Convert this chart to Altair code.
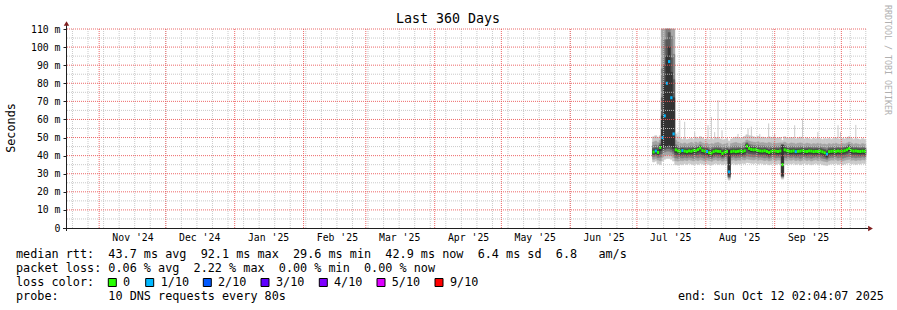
import altair as alt
import pandas as pd

# ---------------- data (values in milliseconds) ----------------
period_start = "2024-10-17T02:04:07Z"
period_end = "2025-10-12T02:04:07Z"
first_day = "2025-07-08"
n_days = 96

median_ms = [
    42.0, 42.6, 41.8, 44.5, 50.0, 62.0, 80.0, 92.0, 72.0, 52.0, 43.2, 42.6,
    42.4, 42.8, 42.5, 42.2, 42.6, 42.4, 42.9, 42.7, 43.3, 44.2, 42.8, 42.5,
    42.3, 41.6, 41.4, 42.2, 42.6, 42.4, 42.3, 41.2, 42.0, 42.3, 31.0, 42.2,
    42.5, 42.2, 42.4, 42.6, 42.3, 42.7, 45.3, 44.0, 43.4, 43.2, 43.3, 42.8,
    42.6, 42.5, 42.7, 42.3, 41.8, 42.4, 42.6, 42.5, 42.3, 42.6, 35.0, 43.2,
    42.7, 42.5, 42.4, 42.6, 42.2, 42.4, 42.5, 42.7, 42.4, 42.3, 42.6, 42.5,
    42.2, 42.4, 42.3, 42.5, 42.1, 41.6, 40.8, 42.2, 42.4, 42.5, 42.3, 42.6,
    42.4, 42.5, 42.7, 43.2, 44.0, 42.8, 42.5, 42.6, 42.4, 42.3, 42.5, 42.4]

loss_tenths = [
    0, 1, 0, 0, 1, 1, 1, 1, 1, 1, 0, 0,
    0, 1, 0, 0, 0, 0, 0, 0, 0, 0, 0, 0,
    1, 0, 0, 0, 0, 0, 0, 0, 0, 0, 1, 0,
    0, 0, 0, 0, 0, 0, 0, 0, 0, 0, 0, 0,
    0, 0, 0, 0, 0, 0, 0, 0, 0, 0, 0, 0,
    0, 0, 0, 0, 1, 0, 0, 0, 0, 0, 0, 0,
    0, 0, 0, 0, 0, 0, 1, 0, 0, 0, 0, 0,
    0, 0, 0, 0, 0, 0, 0, 0, 0, 0, 0, 0]

smoke1_hi = [
    50.4, 51.0, 50.0, 51.0, 110, 110, 110, 110, 110, 110, 52.0, 50.5,
    49.5, 49.0, 49.5, 48.8, 49.2, 49.6, 49.0, 50.2, 49.4, 50.5, 49.8, 49.0,
    49.3, 48.8, 49.5, 49.0, 49.8, 50.0, 49.2, 48.6, 49.0, 49.4, 48.0, 49.2,
    49.6, 50.2, 49.8, 49.5, 50.0, 50.6, 51.5, 51.0, 50.8, 50.4, 50.0, 50.6,
    49.8, 50.2, 50.0, 49.6, 50.4, 49.8, 50.2, 49.6, 49.8, 50.0, 48.5, 50.4,
    49.8, 49.5, 50.0, 49.6, 49.2, 49.8, 50.2, 49.6, 49.2, 49.8, 49.4, 49.0,
    49.6, 49.2, 49.8, 49.4, 49.0, 49.4, 49.2, 49.6, 49.0, 49.4, 49.8, 49.2,
    49.0, 49.6, 49.2, 49.8, 50.4, 49.6, 49.0, 49.4, 49.2, 48.8, 49.4, 49.0]
smoke1_lo = [
    36.5, 37.0, 35.5, 35.0, 37.0, 38.0, 38.5, 38.5, 38.0, 37.0, 35.0, 34.8,
    35.2, 35.0, 35.6, 35.2, 35.8, 35.4, 35.0, 35.6, 35.2, 35.8, 35.4, 35.0,
    35.6, 35.2, 34.8, 35.4, 35.8, 35.2, 35.6, 35.0, 35.4, 35.2, 26.5, 35.4,
    35.8, 35.2, 35.6, 35.4, 35.8, 35.6, 36.2, 36.0, 35.8, 35.6, 36.0, 35.4,
    35.8, 35.6, 35.2, 35.6, 35.0, 35.4, 35.8, 35.2, 35.6, 35.4, 27.0, 35.6,
    35.2, 35.6, 35.4, 35.8, 35.2, 35.6, 35.0, 35.4, 35.8, 35.2, 35.6, 35.0,
    35.4, 35.8, 35.2, 35.6, 35.0, 34.8, 34.6, 35.2, 35.6, 35.4, 35.8, 35.2,
    35.6, 35.0, 35.4, 35.8, 36.0, 35.4, 35.6, 35.2, 35.6, 35.4, 35.8, 35.6]
smoke2_hi = [
    47.5, 48.0, 47.2, 48.5, 110, 110, 110, 110, 110, 110, 48.5, 47.5,
    46.8, 46.5, 47.0, 46.4, 46.8, 47.2, 46.6, 47.4, 46.8, 47.6, 47.0, 46.5,
    46.8, 46.2, 46.6, 46.4, 47.0, 47.2, 46.6, 46.0, 46.4, 46.8, 45.0, 46.6,
    47.0, 47.2, 46.8, 46.6, 47.0, 47.4, 48.6, 48.0, 47.6, 47.4, 47.2, 47.6,
    47.0, 47.2, 47.0, 46.8, 47.2, 46.8, 47.0, 46.6, 46.8, 47.0, 47.0, 47.4,
    46.8, 46.6, 47.0, 46.8, 46.4, 46.8, 47.0, 46.8, 46.4, 46.8, 46.6, 46.2,
    46.6, 46.4, 46.8, 46.6, 46.2, 46.4, 46.0, 46.6, 46.2, 46.6, 46.8, 46.4,
    46.2, 46.6, 46.4, 46.8, 47.4, 46.8, 46.2, 46.6, 46.4, 46.0, 46.6, 46.2]
smoke2_lo = [
    38.0, 38.4, 37.6, 37.2, 39.0, 40.0, 40.5, 40.5, 40.0, 39.0, 37.2, 37.0,
    37.4, 37.2, 37.6, 37.3, 37.8, 37.5, 37.1, 37.6, 37.3, 37.8, 37.5, 37.1,
    37.6, 37.3, 36.9, 37.5, 37.8, 37.3, 37.6, 37.0, 37.5, 37.3, 27.5, 37.5,
    37.8, 37.3, 37.6, 37.5, 37.8, 37.6, 38.2, 38.0, 37.8, 37.6, 38.0, 37.5,
    37.8, 37.6, 37.3, 37.6, 37.1, 37.5, 37.8, 37.3, 37.6, 37.5, 27.8, 37.6,
    37.3, 37.6, 37.5, 37.8, 37.3, 37.6, 37.1, 37.5, 37.8, 37.3, 37.6, 37.1,
    37.5, 37.8, 37.3, 37.6, 37.1, 36.9, 36.6, 37.3, 37.6, 37.5, 37.8, 37.3,
    37.6, 37.1, 37.5, 37.8, 38.0, 37.5, 37.6, 37.3, 37.6, 37.5, 37.8, 37.6]
smoke3_hi = [
    45.5, 45.8, 45.2, 46.8, 88, 104, 110, 110, 106, 96, 46.0, 45.4,
    45.0, 44.8, 45.2, 44.7, 45.0, 45.3, 44.9, 45.5, 45.0, 46.0, 45.2, 44.8,
    45.0, 44.5, 44.6, 44.8, 45.2, 45.3, 44.9, 44.3, 44.7, 45.0, 44.0, 44.9,
    45.2, 45.3, 45.0, 44.9, 45.2, 45.5, 47.2, 46.4, 46.0, 45.7, 45.6, 45.8,
    45.3, 45.4, 45.3, 45.0, 45.2, 45.0, 45.2, 44.9, 45.0, 45.2, 46.0, 45.7,
    45.1, 44.9, 45.2, 45.0, 44.7, 45.0, 45.2, 45.0, 44.7, 45.0, 44.9, 44.6,
    44.9, 44.7, 45.0, 44.9, 44.5, 44.4, 44.0, 44.9, 44.6, 44.9, 45.0, 44.7,
    44.6, 44.9, 44.8, 45.2, 46.2, 45.2, 44.6, 44.9, 44.7, 44.4, 44.9, 44.6]
smoke3_lo = [
    39.4, 39.8, 39.0, 39.2, 41.0, 42.0, 42.5, 42.5, 42.0, 41.0, 38.8, 38.6,
    38.9, 38.7, 39.1, 38.8, 39.2, 39.0, 38.6, 39.1, 38.8, 39.3, 39.0, 38.6,
    39.0, 38.7, 38.4, 39.0, 39.3, 38.8, 39.1, 38.5, 39.0, 38.8, 28.0, 39.0,
    39.3, 38.8, 39.1, 39.0, 39.3, 39.1, 39.8, 39.6, 39.4, 39.2, 39.5, 39.0,
    39.3, 39.1, 38.8, 39.1, 38.6, 39.0, 39.3, 38.8, 39.1, 39.0, 28.2, 39.1,
    38.8, 39.1, 39.0, 39.3, 38.8, 39.1, 38.6, 39.0, 39.3, 38.8, 39.1, 38.6,
    39.0, 39.3, 38.8, 39.1, 38.6, 38.4, 38.0, 38.8, 39.1, 39.0, 39.3, 38.8,
    39.1, 38.6, 39.0, 39.3, 39.6, 39.0, 39.1, 38.8, 39.1, 39.0, 39.3, 39.1]
smoke4_hi = [
    44.0, 44.3, 43.8, 45.8, 72, 90, 104, 108, 94, 82, 44.8, 44.2,
    44.0, 44.2, 44.1, 43.8, 44.1, 44.0, 44.3, 44.2, 44.6, 45.2, 44.3, 44.0,
    43.9, 43.4, 43.3, 43.8, 44.1, 44.0, 43.9, 43.2, 43.7, 43.9, 43.5, 43.8,
    44.0, 43.8, 44.0, 44.1, 43.9, 44.2, 46.6, 45.4, 44.9, 44.7, 44.8, 44.4,
    44.2, 44.1, 44.3, 43.9, 43.5, 44.0, 44.2, 44.1, 43.9, 44.2, 46.0, 44.7,
    44.3, 44.1, 44.0, 44.2, 43.8, 44.0, 44.1, 44.3, 44.0, 43.9, 44.2, 44.1,
    43.8, 44.0, 43.9, 44.1, 43.7, 43.3, 42.6, 43.8, 44.0, 44.1, 43.9, 44.2,
    44.0, 44.1, 44.3, 44.7, 45.4, 44.4, 44.1, 44.2, 44.0, 43.9, 44.1, 44.0]
smoke4_lo = [
    40.5, 41.0, 40.3, 41.0, 43.0, 43.5, 44.0, 44.0, 43.5, 42.5, 40.4, 40.0,
    40.1, 40.2, 40.3, 40.0, 40.4, 40.2, 40.3, 40.4, 40.6, 41.0, 40.4, 40.1,
    40.2, 39.6, 39.4, 40.0, 40.4, 40.2, 40.2, 39.3, 39.9, 40.1, 28.5, 40.0,
    40.3, 40.0, 40.2, 40.3, 40.1, 40.4, 41.8, 41.2, 41.0, 40.8, 40.9, 40.5,
    40.4, 40.3, 40.4, 40.1, 39.6, 40.2, 40.4, 40.3, 40.1, 40.4, 28.6, 40.8,
    40.4, 40.3, 40.2, 40.4, 40.0, 40.2, 40.3, 40.4, 40.2, 40.1, 40.4, 40.3,
    40.0, 40.2, 40.1, 40.3, 39.9, 39.4, 38.8, 40.0, 40.2, 40.3, 40.1, 40.4,
    40.2, 40.3, 40.5, 40.9, 41.6, 40.6, 40.3, 40.4, 40.2, 40.1, 40.3, 40.2]
smoke5_hi = [
    42.9, 43.4, 42.7, 45.3, 62, 80, 95, 100, 86, 72, 44.0, 43.4,
    43.2, 43.6, 43.3, 43.0, 43.4, 43.2, 43.7, 43.5, 44.1, 45.0, 43.6, 43.3,
    43.1, 42.4, 42.2, 43.0, 43.4, 43.2, 43.1, 42.0, 42.8, 43.1, 43.0, 43.0,
    43.3, 43.0, 43.2, 43.4, 43.1, 43.5, 46.2, 44.8, 44.2, 44.0, 44.1, 43.6,
    43.4, 43.3, 43.5, 43.1, 42.6, 43.2, 43.4, 43.3, 43.1, 43.4, 45.5, 44.0,
    43.5, 43.3, 43.2, 43.4, 43.0, 43.2, 43.3, 43.5, 43.2, 43.1, 43.4, 43.3,
    43.0, 43.2, 43.1, 43.3, 42.9, 42.4, 41.6, 43.0, 43.2, 43.3, 43.1, 43.4,
    43.2, 43.3, 43.5, 44.0, 44.8, 43.6, 43.3, 43.4, 43.2, 43.1, 43.3, 43.2]
smoke5_lo = [
    41.0, 41.4, 40.8, 42.8, 44.0, 45.0, 45.0, 46.0, 45.0, 44.0, 41.8, 41.4,
    41.2, 41.6, 41.3, 41.0, 41.4, 41.2, 41.7, 41.5, 42.1, 43.0, 41.6, 41.3,
    41.1, 40.4, 40.2, 41.0, 41.4, 41.2, 41.1, 40.0, 40.8, 41.1, 29.5, 41.0,
    41.3, 41.0, 41.2, 41.4, 41.1, 41.5, 44.0, 42.8, 42.2, 42.0, 42.1, 41.6,
    41.4, 41.3, 41.5, 41.1, 40.6, 41.2, 41.4, 41.3, 41.1, 41.4, 29.0, 42.0,
    41.5, 41.3, 41.2, 41.4, 41.0, 41.2, 41.3, 41.5, 41.2, 41.1, 41.4, 41.3,
    41.0, 41.2, 41.1, 41.3, 40.9, 40.4, 39.6, 41.0, 41.2, 41.3, 41.1, 41.4,
    41.2, 41.3, 41.5, 42.0, 42.8, 41.6, 41.3, 41.4, 41.2, 41.1, 41.3, 41.2]

# isolated single-column outliers of the outer smoke band
spike_times = [
    "2025-07-19T12:00:00Z", "2025-07-20T07:00:00Z", "2025-07-22T12:00:00Z",
    "2025-07-27T00:00:00Z", "2025-08-02T00:00:00Z", "2025-08-03T12:00:00Z",
    "2025-08-05T00:00:00Z", "2025-08-06T12:00:00Z", "2025-08-08T07:00:00Z",
    "2025-08-15T12:00:00Z", "2025-08-20T00:00:00Z", "2025-08-21T12:00:00Z",
    "2025-08-25T07:00:00Z", "2025-08-29T07:00:00Z", "2025-09-01T00:00:00Z",
    "2025-09-10T00:00:00Z", "2025-09-13T12:00:00Z", "2025-09-20T10:00:00Z",
    "2025-09-29T12:00:00Z", "2025-09-30T14:00:00Z", "2025-10-07T12:00:00Z"]
spike_tops = [53, 59.6, 58.7, 53, 56.8, 61.4, 53, 70.6, 54, 52, 55, 56,
              52, 57.8, 52, 56.8, 60.5, 53, 56.8, 53, 57]

y_tick_values = [0, 10, 20, 30, 40, 50, 60, 70, 80, 90, 100, 110]
y_minor_grid = [5, 15, 25, 35, 45, 55, 65, 75, 85, 95, 105]
y_major_grid = [10, 20, 30, 40, 50, 60, 70, 80, 90, 100, 110]

loss_labels = ["0", "1/10", "2/10", "3/10", "4/10", "5/10", "9/10"]
loss_colors = ["#26ff00", "#00b8ff", "#0059ff", "#5e00ff", "#7e00ff", "#dd00ff", "#ff0000"]
smoke_colors = ["#cacaca", "#a4a4a4", "#7e7e7e", "#585858", "#323232"]

title_text = "Last 360 Days"
y_title = "Seconds"
side_text = "RRDTOOL / TOBI OETIKER"
legend_lines = [
    "median rtt:  43.7 ms avg  92.1 ms max  29.6 ms min  42.9 ms now  6.4 ms sd  6.8   am/s",
    "packet loss: 0.06 % avg  2.22 % max  0.00 % min  0.00 % now",
    "loss color:",
    "probe:       10 DNS requests every 80s",
]
end_text = "end: Sun Oct 12 02:04:07 2025"

for arr in [median_ms, loss_tenths, smoke1_hi, smoke1_lo, smoke2_hi, smoke2_lo, smoke3_hi,
            smoke3_lo, smoke4_hi, smoke4_lo, smoke5_hi, smoke5_lo]:
    assert len(arr) == n_days, len(arr)

# ---------------- tables ----------------
def iso(ts):
    return ts.strftime("%Y-%m-%dT%H:%M:%SZ")

def ms(s):
    return int(pd.Timestamp(s).value // 10**6)

day_start = pd.date_range(first_day, periods=n_days, freq="D", tz="UTC")
days = pd.DataFrame({
    "t0": iso(day_start), "t1": iso(day_start + pd.Timedelta(days=1)),
    "median": median_ms,
    "loss": ["0" if v == 0 else f"{v}/10" for v in loss_tenths],
    "s1lo": smoke1_lo, "s1hi": smoke1_hi, "s2lo": smoke2_lo, "s2hi": smoke2_hi,
    "s3lo": smoke3_lo, "s3hi": smoke3_hi, "s4lo": smoke4_lo, "s4hi": smoke4_hi,
    "s5lo": smoke5_lo, "s5hi": smoke5_hi,
})
spikes = pd.DataFrame({"t": spike_times, "top": spike_tops})

month_starts = pd.date_range("2024-11-01", "2025-10-01", freq="MS", tz="UTC")
week_lines = pd.date_range("2024-10-20", "2025-10-12", freq="7D", tz="UTC")
label_times = [int((m + pd.Timedelta(days=15)).value // 10**6)
               for m in pd.date_range("2024-11-01", "2025-09-01", freq="MS", tz="UTC")]

mono = "DejaVu Sans Mono"
W, H = 800, 199
xs = alt.Scale(type="utc", domain=[ms(period_start), ms(period_end)])
ys = alt.Scale(domain=[0, 110], nice=False, zero=False)
one = pd.DataFrame({"k": [0]})

xaxis = alt.Axis(values=label_times, labelExpr='utcFormat(datum.value, "%b \'%y")',
                 grid=False, domain=False, ticks=False, labelPadding=4,
                 labelFont=mono, labelFontSize=9.8, labelColor="#000000",
                 labelOverlap=False, labelBound=False, labelFlush=False, title=None)
yaxis = alt.Axis(values=y_tick_values,
                 labelExpr="datum.value == 0 ? '0' : datum.value + ' m'",
                 grid=False, domain=False, ticks=True, tickSize=3, tickColor="#1f1f1f",
                 labelPadding=3, labelFont=mono, labelFontSize=9.8, labelColor="#000000",
                 labelOverlap=False, title=None)

def X(field):
    return alt.X(field, scale=xs, axis=xaxis)

def Y(field):
    return alt.Y(field, scale=ys, axis=yaxis)

layers = []

# outlier spikes (under the smoke)
layers.append(alt.Chart(spikes).mark_rule(color=smoke_colors[0], strokeWidth=1).encode(
    x=X("t:T"), y=Y("top:Q"), y2=alt.Y2Datum(46)))

# smoke bands
for k in range(5):
    c = smoke_colors[k]
    layers.append(alt.Chart(days).mark_rect(color=c, stroke=c, strokeWidth=0.6).encode(
        x=X("t0:T"), x2="t1:T", y=Y(f"s{k+1}hi:Q"), y2=f"s{k+1}lo:Q"))

# median line coloured by loss
layers.append(alt.Chart(days).mark_rule(strokeWidth=3).encode(
    x=X("t0:T"), x2="t1:T", y=Y("median:Q"),
    color=alt.Color("loss:N", scale=alt.Scale(domain=loss_labels, range=loss_colors),
                    legend=None)))

# grid on top
layers.append(alt.Chart(pd.DataFrame({"t": iso(week_lines)})).mark_rule(
    color="#c4c4c4", strokeDash=[1, 1], strokeWidth=1, opacity=0.9).encode(x=X("t:T")))
layers.append(alt.Chart(pd.DataFrame({"v": y_minor_grid})).mark_rule(
    color="#c4c4c4", strokeDash=[1, 1], strokeWidth=1, opacity=0.9).encode(y=Y("v:Q")))
layers.append(alt.Chart(pd.DataFrame({"m": iso(month_starts)})).mark_rule(
    color="#ec5858", strokeDash=[1, 1], strokeWidth=1, opacity=0.9).encode(x=X("m:T")))
layers.append(alt.Chart(pd.DataFrame({"w": y_major_grid})).mark_rule(
    color="#ec5858", strokeDash=[1, 1], strokeWidth=1, opacity=0.9).encode(y=Y("w:Q")))

# axis lines and arrows
layers.append(alt.Chart(one).mark_rule(color="#1f1f1f", strokeWidth=1).encode(
    x=alt.value(-3), x2=alt.value(802), y=alt.value(H + 0.5)))
layers.append(alt.Chart(one).mark_rule(color="#1f1f1f", strokeWidth=1).encode(
    x=alt.value(0.5), y=alt.value(-4), y2=alt.value(H + 3)))
layers.append(alt.Chart(one).mark_point(shape="triangle-up", filled=True, size=30,
                                        color="#801f1f", opacity=1).encode(
    x=alt.value(0.5), y=alt.value(-5.5)))
layers.append(alt.Chart(one).mark_point(shape="triangle-right", filled=True, size=30,
                                        color="#801f1f", opacity=1).encode(
    x=alt.value(804.5), y=alt.value(H + 0.5)))

def text_layer(txt, x, y, size, **kw):
    df = pd.DataFrame({"t": [txt.replace(" ", "\u00a0")]})
    return alt.Chart(df).mark_text(font=mono, fontSize=size, **kw).encode(
        text="t:N", x=alt.value(x), y=alt.value(y))

layers.append(text_layer(title_text, 382, -10, 13.3, align="center", baseline="middle",
                         color="#000000"))
layers.append(text_layer(y_title, -55, 99, 11.8, align="center", baseline="middle",
                         angle=270, color="#000000"))
layers.append(text_layer(side_text, 820.5, 31, 8.3, align="center", baseline="middle",
                         angle=90, color="#b0b0b0"))

line_y = [225.3, 239.3, 253.0, 267.0]
for txt, yy in zip(legend_lines, line_y):
    layers.append(text_layer(txt, -50, yy, 11.8, align="left", baseline="middle",
                             color="#000000"))
layers.append(text_layer(end_text, 612, line_y[3], 11.8, align="left", baseline="middle",
                         color="#000000"))

# loss colour legend swatches (layout positions)
box_x = [42.3, 79.7, 137.3, 195.0, 253.3, 311.0, 369.0]
lab_x = [57.0, 94.7, 152.0, 210.0, 268.0, 325.7, 384.0]
for lbl, col, bx, lx in zip(loss_labels, loss_colors, box_x, lab_x):
    layers.append(alt.Chart(one).mark_rect(color=col, stroke="#000000", strokeWidth=1).encode(
        x=alt.value(bx), x2=alt.value(bx + 8), y=alt.value(249.5), y2=alt.value(257.5)))
    layers.append(text_layer(lbl, lx, line_y[2], 11.8, align="left", baseline="middle",
                             color="#000000"))

chart = alt.layer(*layers).properties(
    width=W, height=H,
    padding={"left": 66, "top": 29, "right": 31, "bottom": 82},
    autosize=alt.AutoSizeParams(type="none"),
    background="#ffffff",
).configure_view(stroke=None)

chart.save("out.html", embed_options={"renderer": "svg", "actions": False})
